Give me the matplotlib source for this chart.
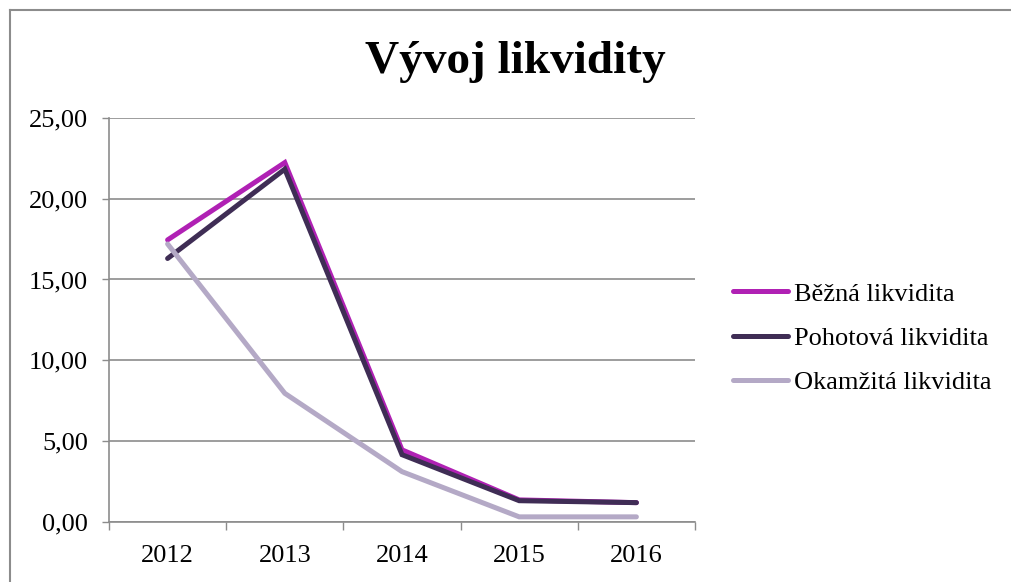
import matplotlib.pyplot as plt
from matplotlib.lines import Line2D
from matplotlib.ticker import FuncFormatter

# data
years = ["2012", "2013", "2014", "2015", "2016"]
bezna = [17.45, 22.24, 4.45, 1.35, 1.18]
pohotova = [16.3, 21.83, 4.15, 1.3, 1.18]
okamzita = [17.2, 7.95, 3.1, 0.3, 0.3]

series_names = ["Běžná likvidita", "Pohotová likvidita", "Okamžitá likvidita"]
series_colors = ["#b021b4", "#3f2d55", "#b4a9c6"]

plt.rcParams['font.family'] = ['Liberation Serif', 'DejaVu Serif']

fig = plt.figure(figsize=(10.11, 5.82), dpi=100)
ax = fig.add_axes([109 / 1011, 60.3 / 582, 586 / 1011, 403.7 / 582])

x = range(len(years))
for vals, name, col in zip([bezna, pohotova, okamzita], series_names, series_colors):
    ax.plot(x, vals, color=col, linewidth=3.6, solid_capstyle='round',
            solid_joinstyle='miter', label=name, zorder=3)

ax.set_xlim(-0.5, 4.5)
ax.set_ylim(0, 25)
ax.set_yticks([0, 5, 10, 15, 20, 25])
ax.yaxis.set_major_formatter(FuncFormatter(lambda v, p: f"{v:.2f}".replace(".", ",")))
ax.set_xticks(list(x))
ax.set_xticklabels(years)
# category boundary ticks like Excel
ax.set_xticks([i - 0.5 for i in range(len(years) + 1)], minor=True)
ax.tick_params(axis='x', which='major', length=0, pad=17, labelsize=19)
ax.tick_params(axis='x', which='minor', length=6, color='#8c8c8c', width=1)
ax.tick_params(axis='y', length=5, color='#8c8c8c', width=1, pad=10, labelsize=19)

ax.grid(axis='y', color='#8c8c8c', linewidth=1.2)
ax.set_axisbelow(True)
for s in ['top', 'right']:
    ax.spines[s].set_visible(False)
for s in ['left', 'bottom']:
    ax.spines[s].set_color('#8c8c8c')
    ax.spines[s].set_linewidth(1.2)

fig.text(515 / 1011, (582 - 73) / 582, "Vývoj likvidity", ha='center', va='baseline',
         fontsize=34, fontweight='bold')

ax.legend(loc='center left', bbox_to_anchor=(733 / 1011, (582 - 338) / 582),
          bbox_transform=fig.transFigure, frameon=False, fontsize=19,
          handlelength=2.1, handletextpad=0.2, labelspacing=0.78,
          borderpad=0, borderaxespad=0)

# outer chart border (left and top visible)
fig.add_artist(Line2D([10 / 1011, 10 / 1011], [0, (582 - 10) / 582],
                      transform=fig.transFigure, color='#8c8c8c', linewidth=1.5))
fig.add_artist(Line2D([10 / 1011, 1], [(582 - 10) / 582, (582 - 10) / 582],
                      transform=fig.transFigure, color='#8c8c8c', linewidth=1.5))

fig.savefig("out.png", dpi=100)
